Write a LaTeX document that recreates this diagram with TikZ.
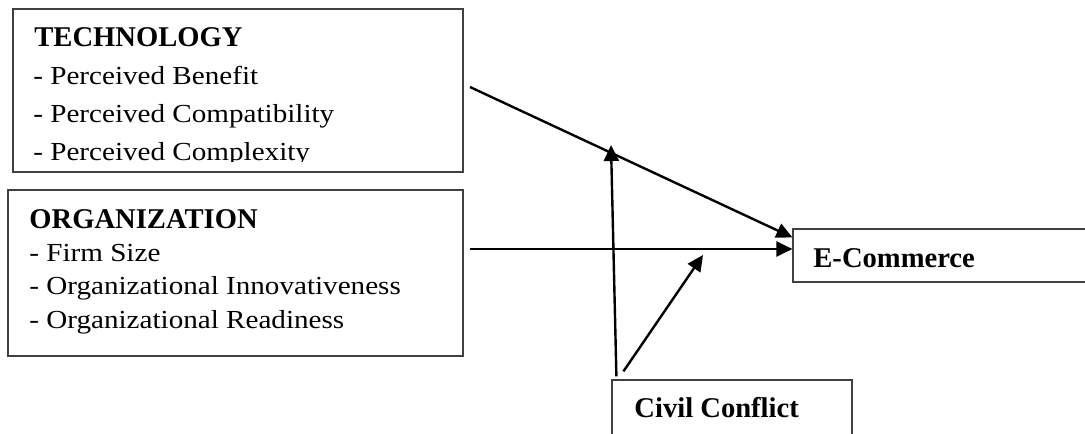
\documentclass[tikz,border=0pt]{standalone}
\usepackage{fontspec}
\setmainfont{Liberation Serif}
\newfontfamily\bodyfont[FakeStretch=1.12]{Liberation Serif}
\usetikzlibrary{positioning, arrows.meta, fit}

\tikzset{
    box/.style={draw=black!75, line width=0.6pt, inner sep=0pt},
    head/.style={anchor=base west, inner sep=0pt, font=\fontsize{14.3}{16}\selectfont\bfseries},
    item/.style={anchor=base west, inner sep=0pt, font=\fontsize{13}{15}\bodyfont},
    link/.style={-{Triangle[length=8pt, width=7.5pt]}, line width=1.2pt, black}
}

\begin{document}
\begin{tikzpicture}[x=0.5pt, y=-0.5pt]
\clip (0,0) rectangle (1085,433);

% factor boxes
\node[box, fit={(13,9) (463,172)}] (tech) {};
\begin{scope}
    \clip (13,9) rectangle (463,161);
    \node[head] (techhead) at (34,47) {TECHNOLOGY};
    \node[item] (benefit) at (33,84) {- Perceived Benefit};
    \node[item] (compat) at (33,122) {- Perceived Compatibility};
    \node[item] (complex) at (33,160) {- Perceived Complexity};
\end{scope}

\node[box, fit={(8,190) (463,356)}] (org) {};
\node[head] (orghead) at (29,228) {ORGANIZATION};
\node[item] (size) at (29,261) {- Firm Size};
\node[item] (innov) at (29,294) {- Organizational Innovativeness};
\node[item] (ready) at (29,328) {- Organizational Readiness};

\node[box, fit={(793,229) (1100,282)}] (ecom) {};
\node[head] (ecomtext) at (813,267) {E-Commerce};

\node[box, fit={(612,380) (852,450)}] (civil) {};
\node[head] (civiltext) at (634,417) {Civil Conflict};

% arrows
\coordinate (techout) at (470,87);
\coordinate (orgout) at (470,249);
\coordinate (modtech) at (611,145);
\coordinate (modorg) at (703,255);

\draw[link] (techout) -- ([yshift=-4.5pt]ecom.north west);
\draw[link] (orgout) -- (orgout -| ecom.west);
\draw[link] ([xshift=2.5pt, yshift=1.5pt]civil.north west) -- (modtech);
\draw[link] ([xshift=6pt, yshift=4pt]civil.north west) -- (modorg);
\end{tikzpicture}
\end{document}
